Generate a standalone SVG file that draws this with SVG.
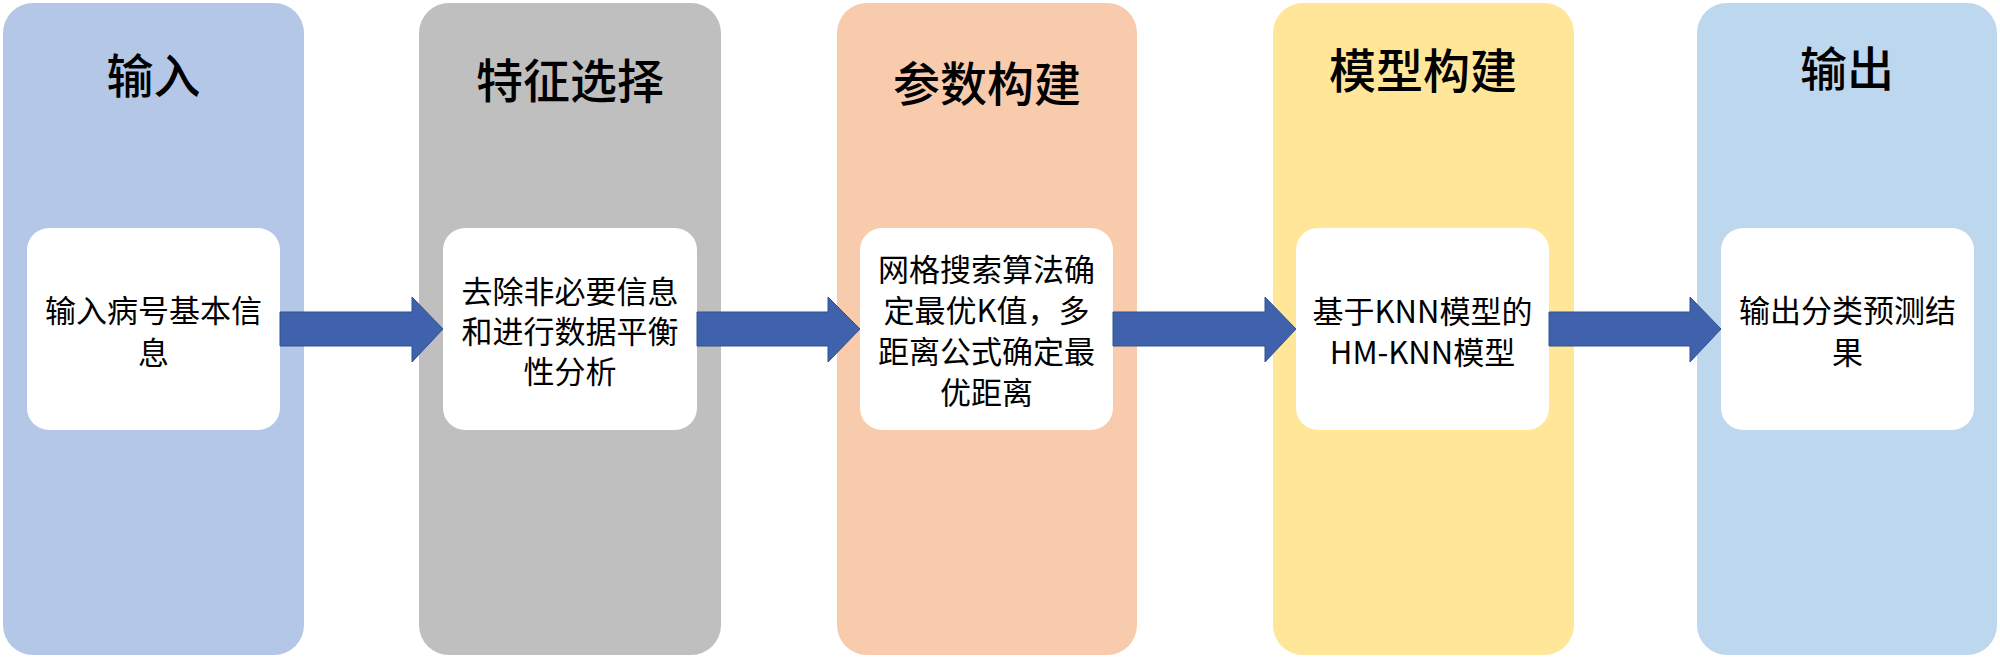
<svg xmlns="http://www.w3.org/2000/svg" width="2000" height="657" viewBox="0 0 2000 657">
<style>
.col{stroke:none}
.inner{fill:#ffffff}
.title{font-family:"Noto Sans CJK SC","Noto Sans",sans-serif;font-size:47px;font-weight:500;fill:#000;text-anchor:middle;dominant-baseline:central}
.txt{font-family:"Noto Sans CJK SC","Noto Sans",sans-serif;font-size:31px;fill:#000;text-anchor:middle;dominant-baseline:central}
.arrow{fill:#4061AB;stroke:#2F528F;stroke-width:1}
</style>
<rect width="2000" height="657" fill="#ffffff"/>
<g id="node-input">
<rect class="col" x="3" y="3" width="301" height="652" rx="30" fill="#B4C7E7"/>
<text class="title" x="153.5" y="72">输入</text>
<rect class="inner" x="27" y="228" width="253" height="202" rx="22"/>
<text class="txt" x="153.5" y="308">输入病号基本信</text>
<text class="txt" x="153.5" y="350">息</text>
</g>
<g id="node-feature">
<rect class="col" x="419" y="3" width="302" height="652" rx="30" fill="#BFBFBF"/>
<text class="title" x="570" y="77">特征选择</text>
<rect class="inner" x="443" y="228" width="254" height="202" rx="22"/>
<text class="txt" x="570" y="289">去除非必要信息</text>
<text class="txt" x="570" y="329">和进行数据平衡</text>
<text class="txt" x="570" y="369">性分析</text>
</g>
<g id="node-param">
<rect class="col" x="837" y="3" width="300" height="652" rx="30" fill="#F8CBAD"/>
<text class="title" x="987" y="80">参数构建</text>
<rect class="inner" x="860" y="228" width="253" height="202" rx="22"/>
<text class="txt" x="986.5" y="267">网格搜索算法确</text>
<text class="txt" x="986.5" y="308">定最优K值，多</text>
<text class="txt" x="986.5" y="349">距离公式确定最</text>
<text class="txt" x="986.5" y="390">优距离</text>
</g>
<g id="node-model">
<rect class="col" x="1273" y="3" width="301" height="652" rx="30" fill="#FFE699"/>
<text class="title" x="1423" y="67">模型构建</text>
<rect class="inner" x="1296" y="228" width="253" height="202" rx="22"/>
<text class="txt" x="1422.5" y="309">基于KNN模型的</text>
<text class="txt" x="1422.5" y="350">HM-KNN模型</text>
</g>
<g id="node-output">
<rect class="col" x="1697" y="3" width="300" height="652" rx="30" fill="#BDD7EE"/>
<text class="title" x="1847" y="65">输出</text>
<rect class="inner" x="1721" y="228" width="253" height="202" rx="22"/>
<text class="txt" x="1847.5" y="308">输出分类预测结</text>
<text class="txt" x="1847.5" y="350">果</text>
</g>
<g id="connectors">
<polygon class="arrow" points="280,312 412,312 412,297 443,329 412,362 412,346 280,346"/>
<polygon class="arrow" points="697,312 828,312 828,297 860,329 828,362 828,346 697,346"/>
<polygon class="arrow" points="1113,312 1265,312 1265,297 1296,329 1265,362 1265,346 1113,346"/>
<polygon class="arrow" points="1549,312 1690,312 1690,297 1721,329 1690,362 1690,346 1549,346"/>
</g>
</svg>
